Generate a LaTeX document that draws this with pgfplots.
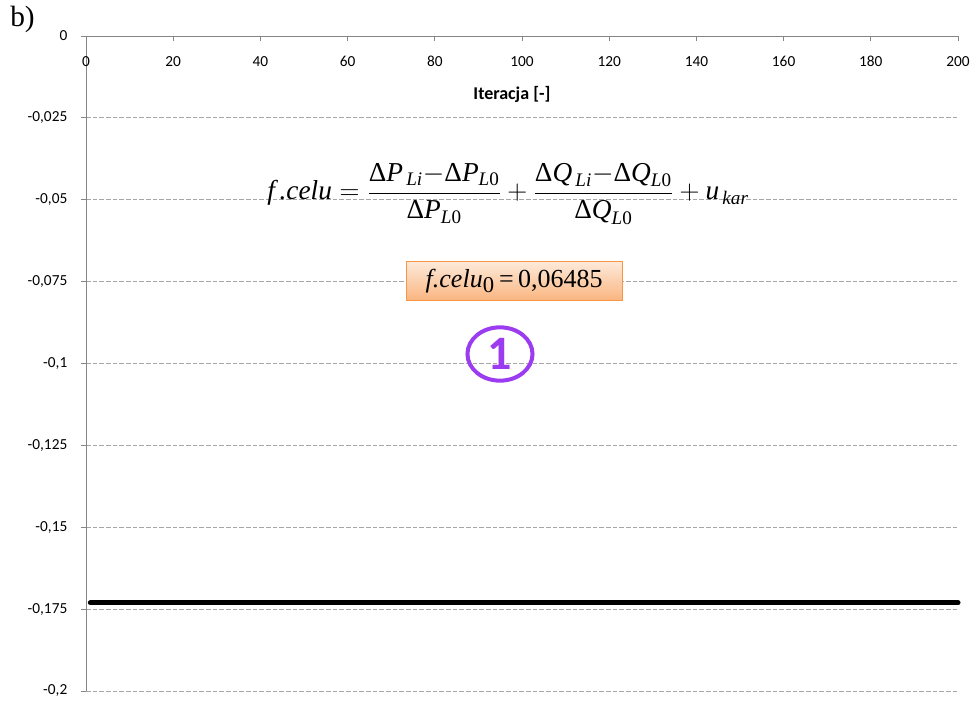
\documentclass[border=0pt]{standalone}
\usepackage{fontspec}
\usepackage{amsmath}
\usepackage{pgfplots}
\pgfplotsset{compat=1.18}
\usetikzlibrary{calc}
\setmainfont{Carlito}
\newfontfamily\tm{Liberation Serif}
\definecolor{gridgray}{HTML}{A6A6A6}
\definecolor{axgray}{HTML}{868686}
\definecolor{boxtop}{HTML}{FDEADA}
\definecolor{boxbot}{HTML}{FAB580}
\definecolor{boxline}{HTML}{F79646}
\definecolor{purp}{HTML}{9B3CF0}
\newcommand\D{\textup{Δ}}
\begin{document}
\begin{tikzpicture}
\begin{axis}[
  name=ax, scale only axis, width=654pt, height=491.25pt,
  xmin=0, xmax=200, ymin=-0.2, ymax=0,
  axis x line*=top, axis y line*=left,
  axis line style={axgray, line width=0.6pt},
  xtick={0,20,40,60,80,100,120,140,160,180,200},
  ytick={0,-0.025,-0.05,-0.075,-0.1,-0.125,-0.15,-0.175,-0.2},
  ymajorgrids,
  major grid style={gridgray, dash pattern=on 3.5pt off 1.5pt, line width=0.6pt},
  xtick align=inside, ytick align=outside,
  major tick length=4pt,
  tick style={axgray, line width=0.6pt},
  ticklabel style={font=\fontsize{11.5}{13}\selectfont, text=black},
  /pgf/number format/assume math mode=true,
  y tick label style={/pgf/number format/use comma, /pgf/number format/fixed, /pgf/number format/precision=3},
  yticklabel style={anchor=east, xshift=-6.5pt},
  xticklabel style={anchor=base, yshift=-23pt},
  clip=false,
]
\addplot[black, line width=3.75pt, line cap=round] coordinates {(1,-0.1731) (200,-0.1731)};
\coordinate (SW) at (rel axis cs:0,0);
\coordinate (NE) at (rel axis cs:1,1);
\node[font=\bfseries\fontsize{13.5}{16}\selectfont] at (rel axis cs:0.4885,1) [yshift=-44pt] {Iteracja [-]};
\node[font=\tm\fontsize{20.5}{24}\selectfont] at (axis cs:96.8,-0.0482)
  {$\textit{f\,.celu} = \dfrac{\D\textit{P}_{\,\textit{Li}}{-}\D\textit{P}_{\textit{L}\textup{0}}}{\D\textit{P}_{\textit{L}\textup{0}}} + \dfrac{\D\textit{Q}_{\,\textit{Li}}{-}\D\textit{Q}_{\textit{L}\textup{0}}}{\D\textit{Q}_{\textit{L}\textup{0}}} + \textit{u}_{\,\textit{kar}}$};
\node[draw=boxline, line width=0.8pt, top color=boxtop, bottom color=boxbot, minimum width=162pt, minimum height=29pt, inner sep=0pt, font=\tm\fontsize{19.5}{22}\selectfont]
  at (axis cs:98.2,-0.0748) {\textit{f.celu}\textsubscript{\fontsize{17}{18}\selectfont 0}\,=\,0,06485};
\draw[purp, line width=3pt] (axis cs:94.95,-0.0971) ellipse [x radius=24.4pt, y radius=20pt];
\node[text=purp, font=\bfseries\fontsize{36}{40}\selectfont] at (axis cs:94.95,-0.0971) {1};
\end{axis}
\node[anchor=north west, inner sep=0pt, font=\tm\fontsize{22}{24}\selectfont] at ($(SW|-NE)+(-57pt,22.5pt)$) {b)};
\pgfresetboundingbox
\path[use as bounding box] ($(SW)+(-64.5pt,-7.5pt)$) rectangle ($(NE)+(13.5pt,27pt)$);
\end{tikzpicture}
\end{document}
